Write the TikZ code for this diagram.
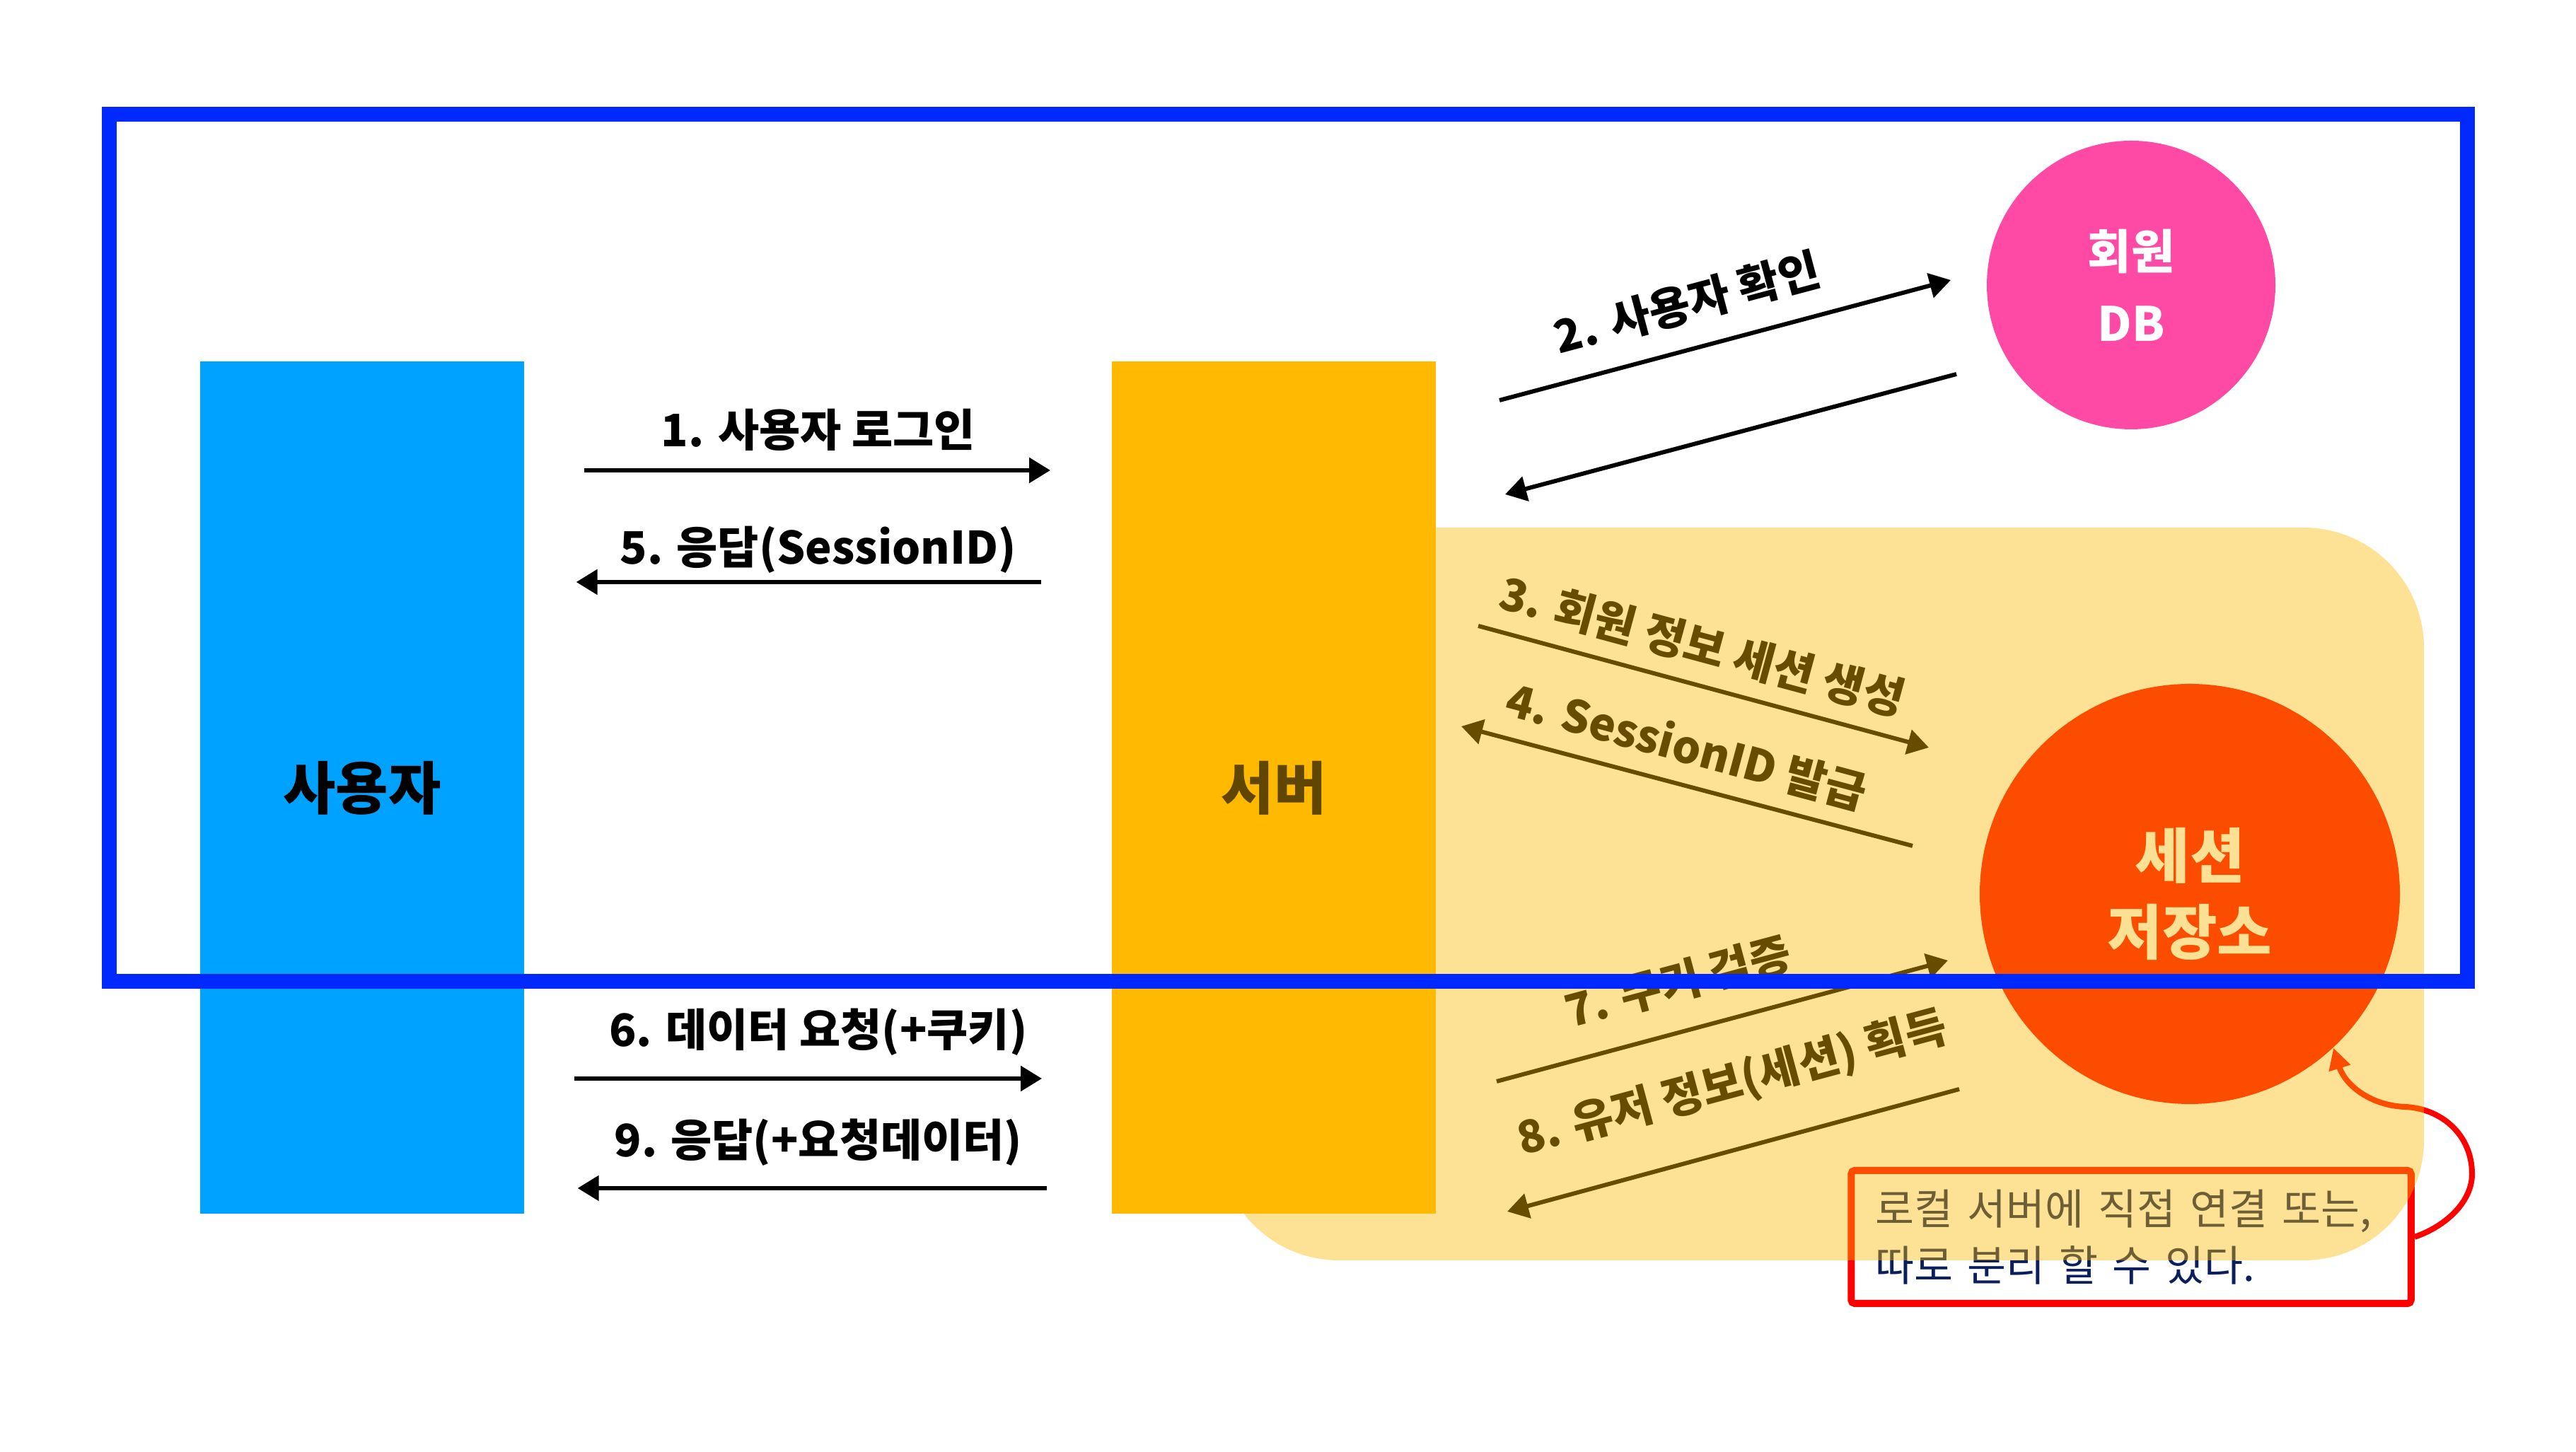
\documentclass[tikz,border=0pt]{standalone}
\usepackage{fontspec}
\setmainfont{Noto Sans CJK KR}
\usepackage{xcolor}
\usepackage{tikz}
\usetikzlibrary{arrows.meta,positioning,calc}

\definecolor{frameblue}{RGB}{0,41,255}
\definecolor{userblue}{RGB}{0,162,255}
\definecolor{serverorange}{RGB}{254,185,0}
\definecolor{zoneorange}{RGB}{250,183,0}
\definecolor{zonebrown}{RGB}{96,70,0}
\definecolor{dbpink}{RGB}{255,74,165}
\definecolor{notenavy}{RGB}{10,31,92}

\tikzset{
  flow/.style={-{Triangle[length=3mm,width=3.5mm]}, line width=1.7pt},
  lbl/.style={font=\bfseries\fontsize{18}{22}\selectfont, inner sep=1pt},
  bar/.style={rectangle, inner sep=0, minimum width=4.58cm, minimum height=12.05cm,
    font=\bfseries\fontsize{23}{28}\selectfont},
}

\begin{document}
\begin{tikzpicture}
\useasboundingbox (0,0) rectangle (36.42,20.53);

% User column
\node[bar, fill=userblue] (user) at (5.12,9.39) {사용자};

% Member DB
\node[circle, fill=dbpink, minimum size=4.08cm, inner sep=0, text=white, align=center,
  font=\bfseries\fontsize{19}{29}\selectfont] (db) at (30.13,16.50) {회원\\DB};

% Session store
\node[circle, fill=red, minimum size=5.94cm, inner sep=0, text=white, align=center,
  font=\bfseries\fontsize{24}{30.5}\selectfont] (store) at (30.96,7.89) {세션\\저장소};

% Server column (placed by its edges, drawn later)
\coordinate (srvw) at (15.72,9.39);
\coordinate (srve) at (20.30,9.39);

% User <-> server
\coordinate (row1) at (0,13.88);
\coordinate (row5) at (0,12.30);
\coordinate (row6) at (0,5.28);
\coordinate (row9) at (0,3.73);
\draw[flow, shorten <=8.4mm, shorten >=8.7mm] (user.east |- row1) -- (srvw |- row1)
  node[lbl, midway, yshift=5.7mm] {1. 사용자 로그인};
\draw[flow, shorten <=10mm, shorten >=7.3mm] (srvw |- row5) -- (user.east |- row5)
  node[lbl, midway, yshift=4.6mm] {5. 응답(SessionID)};
\draw[flow, shorten <=7mm, shorten >=9.9mm] (user.east |- row6) -- (srvw |- row6)
  node[lbl, midway, yshift=6.6mm] {6. 데이터 요청(+쿠키)};
\draw[flow, shorten <=9.2mm, shorten >=7.5mm] (srvw |- row9) -- (user.east |- row9)
  node[lbl, midway, yshift=6.5mm] {9. 응답(+요청데이터)};

% Server <-> DB
\coordinate (s2) at (21.20,14.87);
\coordinate (e2) at (27.58,16.57);
\coordinate (s2r) at (27.66,15.24);
\coordinate (e2r) at (21.28,13.54);
\draw[flow] (s2) -- (e2);
\draw[flow] (s2r) -- (e2r);
\node[lbl, rotate=14.9] (l2) at (23.85,16.25) {2. 사용자 확인};

% Server <-> session store
\coordinate (s3) at (20.90,11.68);
\coordinate (e3) at (27.27,9.96);
\coordinate (s4) at (27.04,8.57);
\coordinate (e4) at (20.66,10.26);
\coordinate (s7) at (21.16,5.24);
\coordinate (e7) at (27.54,6.95);
\coordinate (s8) at (27.70,5.13);
\coordinate (e8) at (21.31,3.40);
\draw[flow] (s3) -- (e3);
\draw[flow] (s4) -- (e4);
\draw[flow] (s7) -- (e7);
\draw[flow] (s8) -- (e8);
\node[lbl, rotate=-15.1] (l3) at (24.07,11.40) {3. 회원 정보 세션 생성};
\node[lbl, rotate=-15] (l4) at (23.85,9.98) {4. SessionID 발급};
\node[lbl, rotate=15] (l7) at (23.72,6.65) {7. 쿠키 검증};
\node[lbl, rotate=15] (l8) at (24.49,5.20) {8. 유저 정보(세션) 획득};

% Note
\node[draw=red, line width=1mm, rounded corners=0.5mm, minimum width=7.915cm, minimum height=1.88cm,
  text width=7.225cm, inner xsep=3.45mm, inner ysep=0, align=left, text=notenavy,
  font=\fontsize{17}{22.8}\selectfont] (note) at (30.13,3.04) {로컬 서버에 직접 연결 또는,\\따로 분리 할 수 있다.};
\draw[-{Triangle[length=3mm,width=3mm]}, red, line width=0.8mm] (note.east)
  .. controls (34.6,3.2) and (34.95,3.55) .. (34.95,3.93)
  .. controls (34.95,4.5) and (34.5,4.86) .. (34.0,4.88)
  .. controls (33.5,4.9) and (33.15,5.2) .. (store.313);

% Session zone
\fill[zoneorange, fill opacity=0.416, rounded corners=1.7cm] (17.23,2.71) rectangle (34.27,13.07);

% Server column
\node[bar, fill=serverorange, text=zonebrown] (server) at ($(srvw)!0.5!(srve)$) {서버};

% Blue frame
\draw[frameblue, line width=2.1mm] (1.545,6.655) rectangle (34.885,18.915);
\end{tikzpicture}
\end{document}
